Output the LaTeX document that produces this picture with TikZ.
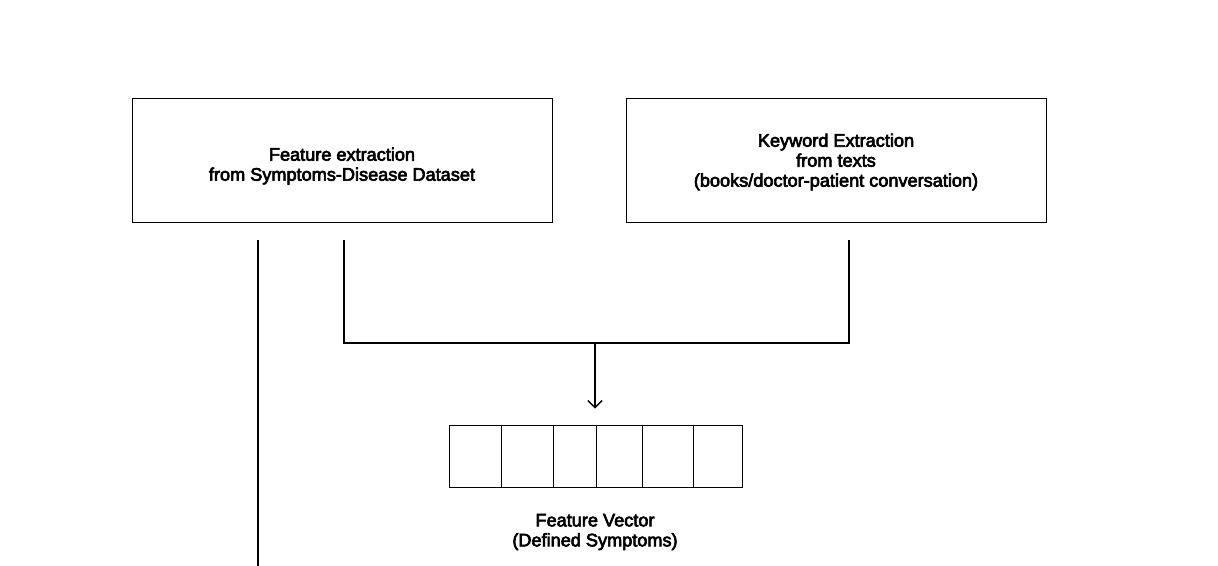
\documentclass[tikz,border=0pt]{standalone}
\usepackage{fontspec}
\setmainfont{Liberation Sans}[UprightFeatures={FakeBold=3.5}]
\usetikzlibrary{arrows.meta}

\tikzset{
  stage/.style={draw, line width=0.7pt, minimum width=420*0.025cm, minimum height=124*0.025cm,
    inner sep=0pt},
  caption/.style={align=center, font=\fontsize{12.9}{14.2}\selectfont, inner sep=0pt},
  link/.style={line width=1pt},
}

\begin{document}
\begin{tikzpicture}[x=0.025cm, y=-0.025cm]
  \useasboundingbox (0,0) rectangle (1218,566);
  \node[stage] (dataset) at (342,160) {};
  \node[caption] (datasettext) at (342,166) {Feature extraction\\from Symptoms-Disease Dataset};
  \node[stage] (keyword) at (836,160) {};
  \node[caption] (keywordtext) at (836,162) {Keyword Extraction\\from texts\\(books/doctor-patient conversation)};
  \coordinate (l0) at (258,240);
  \coordinate (l1) at (258,566);
  \coordinate (d0) at (344,240);
  \coordinate (d1) at (344,343);
  \coordinate (k0) at (849,240);
  \coordinate (k1) at (849,343);
  \coordinate (m) at (595,343);
  \node[draw, line width=0.7pt, minimum width=293*0.025cm, minimum height=62*0.025cm, inner sep=0pt]
    (vec) at (595.5,456) {};
  \foreach \x in {501,553,596,642,693}
    \draw[line width=0.7pt] (\x,425) -- (\x,487);
  \node[caption] (vlabel) at (595,532) {Feature Vector\\(Defined Symptoms)};
  \draw[link] (l0) -- (l1);
  \draw[link] (d0) -- (d1) -- (k1) -- (k0);
  \draw[link, -{Straight Barb[length=5pt, width=10pt]}, shorten >=16*0.025cm] (m) -- (vec.north -| m);
\end{tikzpicture}
\end{document}
